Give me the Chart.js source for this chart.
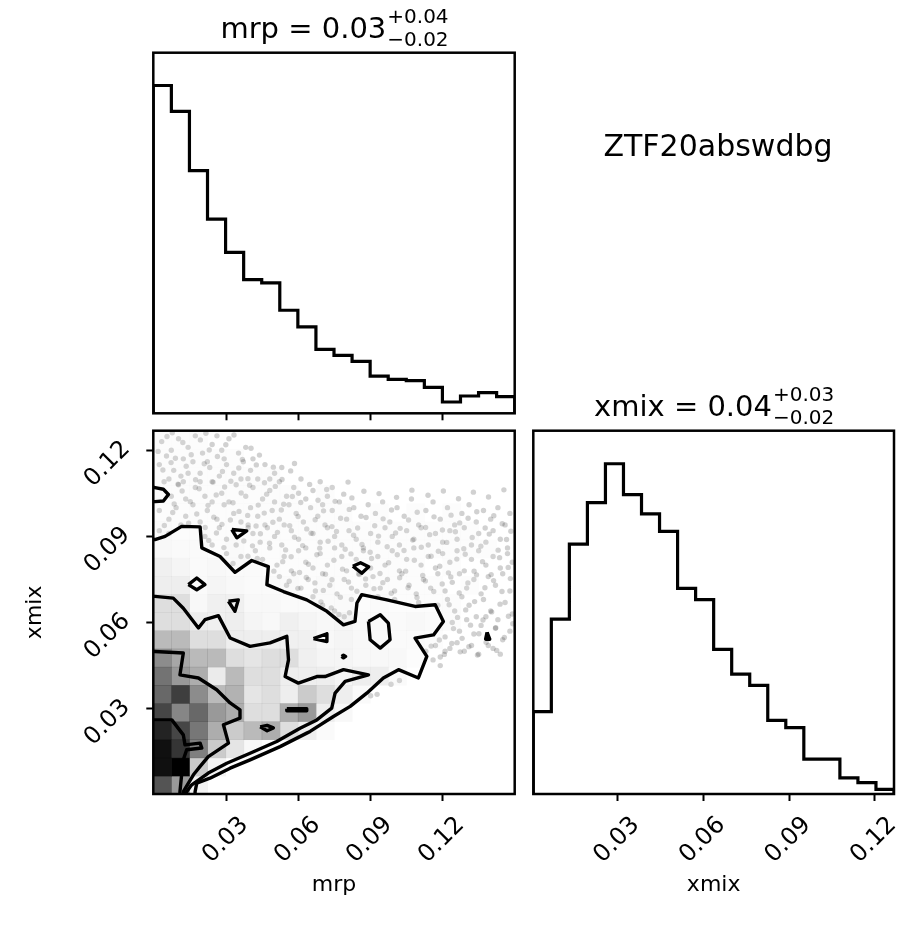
<!DOCTYPE html>
<html>
<head>
<meta charset="utf-8">
<title>ZTF20abswdbg corner plot</title>
<script src="https://cdn.jsdelivr.net/npm/chart.js@4.4.1/dist/chart.umd.min.js"></script>
<style>
  html, body { margin: 0; padding: 0; background: #fff; }
  #figure { position: relative; width: 913px; height: 926px; }
  #figure canvas { position: absolute; left: 0; top: 0; }
</style>
</head>
<body>
<div id="figure">
  <canvas id="mrp-hist" width="913" height="926"></canvas>
  <canvas id="joint" width="913" height="926"></canvas>
  <canvas id="xmix-hist" width="913" height="926"></canvas>
</div>
<script>
const FIG_W = 913, FIG_H = 926;
const FONT = "'DejaVu Sans', 'Liberation Sans', sans-serif";

// axis limits (sample extent) and tick values, shared by both parameters
const mrpRange = [-0.0005, 0.1500];
const xmixRange = [0.0003, 0.1268];
const tickValues = [0.03, 0.06, 0.09, 0.12];

const objectName = 'ZTF20abswdbg';
const mrpSummary = { label: 'mrp', median: '0.03', plus: '0.04', minus: '0.02' };
const xmixSummary = { label: 'xmix', median: '0.04', plus: '0.03', minus: '0.02' };

// 1D marginal histograms, 20 bins over the ranges above
const mrpCounts = [493, 454, 365, 292, 242, 201, 196, 155, 130, 96, 87, 78, 56, 51, 49, 39, 17, 26, 31, 25];
const xmixCounts = [123, 261, 373, 435, 493, 447, 418, 392, 307, 290, 216, 179, 162, 110, 99, 52, 52, 24, 17, 7];

// 2D density (fraction of peak), one row per xmix bin from the bottom, one column per mrp bin
const densityRows = [
  [0.82, 0.63, 0.22, 0, 0, 0, 0, 0, 0, 0, 0, 0, 0, 0, 0, 0, 0, 0, 0, 0],
  [0.97, 1.00, 0.45, 0.22, 0, 0, 0, 0, 0, 0, 0, 0, 0, 0, 0, 0, 0, 0, 0, 0],
  [0.97, 0.89, 0.71, 0.45, 0.32, 0.17, 0, 0, 0, 0, 0, 0, 0, 0, 0, 0, 0, 0, 0, 0],
  [0.93, 0.85, 0.73, 0.57, 0.45, 0.52, 0.57, 0.36, 0.26, 0.14, 0, 0, 0, 0, 0, 0, 0, 0, 0, 0],
  [0.85, 0.69, 0.77, 0.63, 0.57, 0.36, 0.36, 0.57, 0.63, 0.26, 0.17, 0, 0, 0, 0, 0, 0, 0, 0, 0],
  [0.77, 0.87, 0.67, 0.52, 0.55, 0.32, 0.36, 0.26, 0.45, 0.36, 0.26, 0.14, 0, 0, 0, 0, 0, 0, 0, 0],
  [0.74, 0.63, 0.57, 0.28, 0.52, 0.36, 0.36, 0.26, 0.26, 0.26, 0.20, 0.26, 0.26, 0.14, 0, 0, 0, 0, 0, 0],
  [0.67, 0.59, 0.52, 0.52, 0.36, 0.32, 0.36, 0.36, 0.24, 0.20, 0.20, 0.17, 0.17, 0.17, 0.10, 0, 0, 0, 0, 0],
  [0.52, 0.52, 0.36, 0.36, 0.26, 0.26, 0.26, 0.24, 0.24, 0.17, 0.20, 0.17, 0.17, 0.14, 0.14, 0.10, 0, 0, 0, 0],
  [0.36, 0.36, 0.26, 0.24, 0.26, 0.20, 0.17, 0.24, 0.20, 0.17, 0.20, 0.14, 0.14, 0.14, 0.17, 0.14, 0.10, 0, 0, 0],
  [0.36, 0.36, 0.17, 0.24, 0.24, 0.17, 0.17, 0.14, 0.14, 0.14, 0.14, 0.10, 0.14, 0.10, 0.10, 0.10, 0.10, 0, 0, 0],
  [0.26, 0.26, 0.14, 0.20, 0.17, 0.14, 0.14, 0.14, 0.10, 0.14, 0.10, 0.10, 0.10, 0.10, 0.10, 0.10, 0, 0.10, 0, 0],
  [0.24, 0.20, 0.14, 0.17, 0.14, 0.14, 0.10, 0.10, 0.10, 0.10, 0.10, 0.10, 0.10, 0.10, 0.10, 0, 0.10, 0, 0, 0],
  [0.17, 0.14, 0.14, 0.10, 0.14, 0.10, 0.10, 0.10, 0.10, 0.10, 0.10, 0.10, 0.10, 0.10, 0.10, 0.10, 0.10, 0.10, 0.10, 0],
  [0.14, 0.10, 0.10, 0.10, 0.10, 0.10, 0.10, 0.10, 0.10, 0.10, 0.10, 0.10, 0.10, 0.10, 0.10, 0.10, 0.10, 0.10, 0, 0],
  [0.10, 0.10, 0.10, 0.10, 0.10, 0.10, 0.10, 0.10, 0.10, 0.10, 0.10, 0, 0.10, 0, 0.10, 0, 0.10, 0, 0, 0],
  [0.10, 0.10, 0.10, 0.10, 0.10, 0.10, 0.10, 0.10, 0, 0.10, 0, 0, 0, 0, 0, 0, 0, 0, 0, 0],
  [0.10, 0.10, 0.10, 0.10, 0.10, 0.10, 0.10, 0, 0, 0, 0, 0, 0, 0, 0, 0, 0, 0, 0, 0],
  [0.10, 0.10, 0.10, 0.10, 0.10, 0, 0, 0, 0, 0, 0, 0, 0, 0, 0, 0, 0, 0, 0, 0],
  [0.10, 0.10, 0.10, 0, 0, 0, 0, 0, 0, 0, 0, 0, 0, 0, 0, 0, 0, 0, 0, 0]
];

// contour paths [mrp, xmix]; open ends run past the axes and get clipped
const contourOuter = [
  [-0.006, 0.0889], [0.0002, 0.0889], [0.0044, 0.0900], [0.0113, 0.0935], [0.0190, 0.0933],
  [0.0197, 0.0860], [0.0273, 0.0830], [0.0335, 0.0775], [0.0405, 0.0816], [0.0474, 0.0795],
  [0.0468, 0.0732], [0.0537, 0.0708], [0.0634, 0.0679], [0.0718, 0.0639], [0.0787, 0.0592],
  [0.0835, 0.0604], [0.0843, 0.0668], [0.0863, 0.0697], [0.0968, 0.0679], [0.1085, 0.0656],
  [0.1169, 0.0662], [0.1203, 0.0604], [0.1162, 0.0557], [0.1085, 0.0546], [0.1134, 0.0482],
  [0.1099, 0.0407], [0.1016, 0.0436], [0.0953, 0.0407], [0.0884, 0.0354], [0.0815, 0.0308],
  [0.0745, 0.0273], [0.0648, 0.0221], [0.0634, 0.0215], [0.0523, 0.0168], [0.0398, 0.0122],
  [0.0315, 0.0093], [0.0231, 0.0058], [0.0176, 0.0041], [0.0169, 0.0011], [0.0169, -0.003]
];
const contourSecond = [
  [-0.006, 0.0691], [0.0002, 0.0691], [0.0078, 0.0685], [0.0120, 0.0650], [0.0183, 0.0581],
  [0.0210, 0.0610], [0.0266, 0.0624], [0.0315, 0.0546], [0.0398, 0.0517], [0.0481, 0.0529],
  [0.0551, 0.0552], [0.0558, 0.0470], [0.0544, 0.0412], [0.0599, 0.0389], [0.0676, 0.0412],
  [0.0710, 0.0412], [0.0787, 0.0436], [0.0891, 0.0418], [0.0794, 0.0395], [0.0752, 0.0354],
  [0.0738, 0.0302], [0.0676, 0.0261], [0.0606, 0.0232], [0.0509, 0.0186], [0.0398, 0.0145],
  [0.0301, 0.0110], [0.0224, 0.0076], [0.0155, 0.0035], [0.0134, 0.0011], [0.0134, -0.003]
];
const contourThird = [
  [-0.006, 0.0499], [0.0002, 0.0499], [0.0120, 0.0494], [0.0106, 0.0418], [0.0183, 0.0407],
  [0.0259, 0.0366], [0.0315, 0.0320], [0.0356, 0.0296], [0.0356, 0.0267], [0.0287, 0.0244],
  [0.0308, 0.0180], [0.0224, 0.0133], [0.0190, 0.0099], [0.0162, 0.0070], [0.0120, 0.0011],
  [0.0120, -0.003]
];
const contourInner = [
  [-0.006, 0.0261], [0.0002, 0.0261], [0.0072, 0.0261], [0.0120, 0.0209], [0.0127, 0.0174],
  [0.0190, 0.0180], [0.0197, 0.0163], [0.0134, 0.0157], [0.0120, 0.0122], [0.0113, 0.0070],
  [0.0106, 0.0011], [0.0106, -0.003]
];
// small closed islands
const contourIslands = [
  [[-0.006, 0.1070], [0.0002, 0.1070], [0.0037, 0.1064], [0.0058, 0.1046], [0.0037, 0.1023], [0.0002, 0.1021], [-0.006, 0.1021]],
  [[0.0322, 0.0924], [0.0384, 0.0919], [0.0343, 0.0895], [0.0322, 0.0924]],
  [[0.0826, 0.0796], [0.0858, 0.0808], [0.0892, 0.0794], [0.0863, 0.0772], [0.0826, 0.0796]],
  [[0.1385, 0.0566], [0.1379, 0.0542], [0.1396, 0.0542], [0.1385, 0.0566]],
  [[0.0141, 0.0732], [0.0176, 0.0755], [0.0210, 0.0732], [0.0176, 0.0714], [0.0141, 0.0732]],
  [[0.0308, 0.0674], [0.0349, 0.0679], [0.0335, 0.0639], [0.0308, 0.0674]],
  [[0.0662, 0.0544], [0.0718, 0.0561], [0.0718, 0.0534], [0.0662, 0.0544]],
  [[0.0891, 0.0604], [0.0940, 0.0627], [0.0974, 0.0598], [0.0981, 0.0540], [0.0940, 0.0511], [0.0898, 0.0540], [0.0891, 0.0604]],
  [[0.0779, 0.0482], [0.0787, 0.0486], [0.0796, 0.0482], [0.0787, 0.0477], [0.0779, 0.0482]],
  [[0.0551, 0.0300], [0.0634, 0.0300], [0.0634, 0.0293], [0.0551, 0.0293], [0.0551, 0.0300]],
  [[0.0440, 0.0237], [0.0469, 0.0242], [0.0495, 0.0233], [0.0469, 0.0223], [0.0440, 0.0237]]
];

// individual samples outside the outer contour [mrp, xmix]
const samplePoints = [
  [0.003,0.123],[0.007,0.120],[0.010,0.124],[0.014,0.121],[0.017,0.125],[0.020,0.119],[0.024,0.122],[0.028,0.120],
  [0.031,0.124],[0.035,0.119],[0.038,0.121],[0.005,0.118],[0.012,0.117],[0.022,0.116],[0.026,0.125],
  [0.002,0.115],[0.008,0.113],[0.011,0.111],[0.016,0.116],[0.019,0.112],[0.023,0.114],[0.027,0.111],[0.030,0.115],
  [0.033,0.112],[0.037,0.116],[0.040,0.113],[0.043,0.110],[0.046,0.115],[0.050,0.112],[0.053,0.114],[0.006,0.110],
  [0.014,0.112],[0.029,0.117],[0.041,0.117],[0.048,0.110],
  [0.004,0.109],[0.007,0.104],[0.010,0.108],[0.013,0.103],[0.017,0.107],[0.021,0.104],[0.024,0.109],[0.028,0.105],
  [0.031,0.102],[0.034,0.108],[0.038,0.104],[0.041,0.107],[0.045,0.103],[0.048,0.106],[0.052,0.109],[0.055,0.104],
  [0.058,0.107],[0.061,0.110],[0.063,0.103],[0.066,0.106],[0.069,0.109],[0.072,0.104],[0.074,0.107],[0.019,0.109],
  [0.036,0.110],[0.050,0.102],[0.060,0.105],[0.012,0.109],
  [0.002,0.099],[0.006,0.096],[0.009,0.100],[0.013,0.097],[0.016,0.101],[0.019,0.095],[0.022,0.099],[0.026,0.096],
  [0.029,0.101],[0.033,0.098],[0.036,0.095],[0.040,0.100],[0.043,0.097],[0.046,0.094],[0.049,0.099],[0.052,0.096],
  [0.056,0.101],[0.059,0.098],[0.062,0.095],[0.065,0.100],[0.068,0.097],[0.071,0.094],[0.074,0.099],[0.077,0.102],
  [0.080,0.096],[0.083,0.100],[0.086,0.097],[0.089,0.101],[0.011,0.094],[0.024,0.102],[0.039,0.094],[0.054,0.094],
  [0.070,0.101],[0.092,0.098],[0.095,0.102],[0.098,0.095],[0.101,0.100],[0.104,0.097],[0.107,0.103],[0.110,0.094],
  [0.113,0.099],[0.116,0.102],[0.119,0.096],[0.122,0.100],[0.125,0.094],[0.128,0.098],[0.131,0.101],[0.134,0.095],
  [0.137,0.099],[0.140,0.096],[0.143,0.100],[0.146,0.094],[0.148,0.098],
  [0.002,0.092],[0.006,0.091],[0.021,0.090],[0.024,0.087],[0.027,0.093],[0.030,0.089],[0.041,0.091],[0.044,0.088],
  [0.047,0.093],[0.050,0.090],[0.053,0.087],[0.057,0.092],[0.060,0.089],[0.063,0.086],[0.066,0.091],[0.069,0.088],
  [0.072,0.093],[0.075,0.090],[0.078,0.087],[0.081,0.092],[0.084,0.089],[0.087,0.086],[0.090,0.091],[0.093,0.088],
  [0.096,0.093],[0.099,0.090],[0.102,0.087],[0.105,0.092],[0.108,0.089],[0.111,0.093],[0.114,0.087],[0.117,0.091],
  [0.120,0.088],[0.123,0.092],[0.126,0.089],[0.129,0.093],[0.132,0.087],[0.135,0.091],[0.138,0.088],[0.141,0.092],
  [0.144,0.089],[0.147,0.086],[0.034,0.087],[0.039,0.093],
  [0.030,0.084],[0.036,0.083],[0.042,0.085],[0.045,0.082],[0.048,0.086],[0.051,0.080],[0.054,0.083],[0.057,0.078],
  [0.060,0.085],[0.063,0.081],[0.066,0.079],[0.069,0.084],[0.072,0.080],[0.075,0.086],[0.078,0.083],[0.080,0.078],
  [0.084,0.082],[0.087,0.085],[0.090,0.079],[0.093,0.083],[0.096,0.080],[0.099,0.085],[0.102,0.078],[0.105,0.082],
  [0.108,0.086],[0.111,0.080],[0.114,0.083],[0.117,0.079],[0.120,0.084],[0.123,0.081],[0.126,0.085],[0.129,0.078],
  [0.132,0.082],[0.135,0.085],[0.138,0.080],[0.141,0.083],[0.144,0.079],[0.147,0.084],[0.149,0.081],
  [0.052,0.076],[0.055,0.073],[0.058,0.077],[0.061,0.072],[0.064,0.075],[0.067,0.071],[0.070,0.077],[0.073,0.073],
  [0.076,0.070],[0.079,0.075],[0.082,0.072],[0.085,0.077],[0.088,0.073],[0.091,0.076],[0.094,0.072],[0.097,0.075],
  [0.100,0.071],[0.103,0.077],[0.106,0.073],[0.109,0.070],[0.112,0.075],[0.115,0.072],[0.118,0.077],[0.121,0.071],
  [0.124,0.074],[0.127,0.077],[0.130,0.072],[0.133,0.075],[0.136,0.070],[0.139,0.076],[0.142,0.073],[0.145,0.077],
  [0.148,0.071],
  [0.066,0.069],[0.070,0.066],[0.075,0.064],[0.079,0.062],[0.082,0.068],[0.093,0.069],[0.100,0.068],[0.110,0.067],
  [0.118,0.066],
  [0.122,0.068],[0.125,0.064],[0.128,0.069],[0.131,0.066],[0.134,0.062],[0.137,0.068],[0.140,0.064],[0.143,0.061],
  [0.146,0.067],[0.149,0.063],[0.124,0.060],[0.127,0.057],[0.130,0.061],[0.133,0.056],[0.136,0.059],[0.139,0.052],
  [0.142,0.058],[0.145,0.054],[0.148,0.057],[0.121,0.055],[0.123,0.051],[0.126,0.053],[0.129,0.050],[0.132,0.052],
  [0.135,0.049],[0.141,0.051],[0.144,0.049],[0.117,0.052],[0.119,0.048],[0.113,0.050],[0.138,0.062],
  [0.0927,0.0350],[0.0900,0.0345],[0.0985,0.0385],[0.1020,0.0398],[0.116,0.047],[0.119,0.045],[0.121,0.050],
  [0.0015,0.1196],[0.0052,0.1248],[0.0087,0.1172],[0.0118,0.1227],[0.0153,0.1184],[0.0191,0.1236],[0.0228,0.1201],
  [0.0262,0.1178],[0.0297,0.1219],[0.0331,0.1253],[0.0366,0.1168],[0.0402,0.1207],[0.0437,0.1183],[0.0074,0.1261],
  [0.0214,0.1259],
  [0.0035,0.1131],[0.0069,0.1157],[0.0098,0.1082],[0.0132,0.1144],[0.0171,0.1097],[0.0207,0.1153],[0.0244,0.1089],
  [0.0283,0.1126],[0.0318,0.1092],[0.0351,0.1138],[0.0389,0.1101],[0.0424,0.1149],[0.0458,0.1087],[0.0495,0.1141],
  [0.0531,0.1098],[0.0567,0.1128],[0.0583,0.1154],
  [0.0082,0.1013],[0.0115,0.1058],[0.0149,0.1021],[0.0186,0.1066],[0.0223,0.1008],[0.0257,0.1044],[0.0292,0.1072],
  [0.0327,0.1017],[0.0361,0.1051],[0.0396,0.1078],[0.0432,0.1009],[0.0467,0.1047],[0.0503,0.1074],[0.0538,0.1012],
  [0.0574,0.1039],[0.0609,0.1018],[0.0646,0.1081],[0.0681,0.1026],[0.0717,0.1063],[0.0752,0.1022],[0.0788,0.1047],
  [0.0822,0.1034],
  [0.0041,0.0938],[0.0076,0.0983],[0.0142,0.0946],[0.0176,0.0978],[0.0211,0.0931],[0.0247,0.0967],[0.0281,0.0942],
  [0.0316,0.0957],[0.0352,0.0987],[0.0388,0.0973],[0.0423,0.0936],[0.0457,0.0981],[0.0493,0.0949],[0.0528,0.0992],
  [0.0563,0.0937],[0.0598,0.0969],[0.0634,0.0926],[0.0669,0.0958],[0.0704,0.0989],[0.0739,0.0934],[0.0775,0.0963],
  [0.0811,0.0994],[0.0846,0.0929],[0.0881,0.0966],[0.0917,0.0937],[0.0952,0.0961],[0.0987,0.0992],[0.1023,0.0928],
  [0.1058,0.0957],[0.1094,0.0984],[0.1129,0.0931],[0.1164,0.0968],[0.1199,0.0922],[0.1235,0.0974],[0.1271,0.0947],
  [0.1306,0.0963],[0.1342,0.0986],[0.1377,0.0929],[0.1413,0.0972],[0.1448,0.0944],[0.1484,0.0918],
  [0.0226,0.0886],[0.0258,0.0912],[0.0289,0.0861],[0.0372,0.0884],[0.0408,0.0867],[0.0441,0.0909],[0.0479,0.0876],
  [0.0512,0.0914],[0.0546,0.0853],[0.0583,0.0897],[0.0617,0.0868],[0.0652,0.0911],[0.0688,0.0859],[0.0723,0.0883],
  [0.0758,0.0917],[0.0794,0.0855],[0.0829,0.0904],[0.0864,0.0872],[0.0898,0.0845],[0.0933,0.0901],[0.0969,0.0864],
  [0.1004,0.0912],[0.1039,0.0851],[0.1075,0.0887],[0.1111,0.0862],[0.1146,0.0906],[0.1182,0.0848],[0.1217,0.0879],
  [0.1253,0.0916],[0.1288,0.0857],[0.1323,0.0896],[0.1359,0.0866],[0.1394,0.0908],[0.1431,0.0852],[0.1466,0.0889],
  [0.0327,0.0806],[0.0389,0.0831],[0.0428,0.0823],[0.0497,0.0779],[0.0534,0.0812],[0.0569,0.0829],[0.0604,0.0774],
  [0.0641,0.0803],[0.0676,0.0836],[0.0712,0.0768],[0.0747,0.0817],[0.0783,0.0786],[0.0818,0.0839],[0.0853,0.0767],
  [0.0904,0.0823],[0.0939,0.0771],[0.0975,0.0808],[0.1011,0.0836],[0.1046,0.0779],[0.1082,0.0817],[0.1117,0.0764],
  [0.1152,0.0831],[0.1188,0.0796],[0.1224,0.0773],[0.1259,0.0821],[0.1294,0.0838],[0.1331,0.0779],[0.1366,0.0812],
  [0.1402,0.0767],[0.1437,0.0826],[0.1473,0.0792],
  [0.0561,0.0744],[0.0597,0.0719],[0.0632,0.0757],[0.0668,0.0738],[0.0703,0.0712],[0.0739,0.0749],[0.0774,0.0688],
  [0.0808,0.0741],[0.0843,0.0709],[0.0879,0.0752],[0.0914,0.0718],[0.0951,0.0739],[0.0986,0.0702],[0.1021,0.0756],
  [0.1056,0.0721],[0.1093,0.0687],[0.1128,0.0745],[0.1163,0.0708],[0.1198,0.0734],[0.1234,0.0759],[0.1269,0.0703],
  [0.1305,0.0738],[0.1341,0.0766],[0.1376,0.0721],[0.1412,0.0746],[0.1447,0.0708],[0.1482,0.0753],
  [0.1227,0.0662],[0.1262,0.0618],[0.1296,0.0644],[0.1333,0.0673],[0.1368,0.0609],[0.1404,0.0637],[0.1439,0.0664],
  [0.1474,0.0622],[0.1245,0.0579],[0.1281,0.0545],[0.1316,0.0591],[0.1351,0.0561],[0.1421,0.0582],[0.1457,0.0548],
  [0.1492,0.0596],[0.1238,0.0527],[0.1273,0.0498],[0.1309,0.0516],[0.1345,0.0487],[0.1381,0.0531],[0.1425,0.0503],
  [0.1186,0.0539],[0.1152,0.0518],[0.1207,0.0489],
  [0.0693,0.0672],[0.0736,0.0651],[0.0768,0.0628],[0.0812,0.0634],
  [0.0935,0.1049],[0.1008,0.1036],[0.1072,0.1061],[0.1139,0.1043],[0.1203,0.1058],[0.1266,0.1031],[0.1328,0.1054],
  [0.1391,0.1037],[0.1455,0.1062],[0.0872,0.1057],[0.0806,0.1089]
];

// panel boxes on the page (pixels)
const panels = {
  mrpHist:  { left: 153.3, top: 52.7,  right: 514.7, bottom: 413.3 },
  joint:    { left: 153.3, top: 430.7, right: 514.7, bottom: 794 },
  xmixHist: { left: 533.3, top: 430.7, right: 894,   bottom: 794 }
};
const LABELLED_X_H = 108;   // room under a panel for tick labels + axis title
const BARE_X_H = 10;        // tick marks only
const LABELLED_Y_W = 135;
const nameAnchor = { x: 718, y: 156 };

function binEdges(range, n) {
  const step = (range[1] - range[0]) / n;
  return Array.from({ length: n + 1 }, (_, i) => range[0] + i * step);
}

// outline of a step histogram, closed down to zero at both ends
function stepData(edges, counts) {
  const pts = [{ x: edges[0], y: 0 }];
  counts.forEach((c, i) => pts.push({ x: edges[i], y: c }));
  pts.push({ x: edges[counts.length], y: counts[counts.length - 1] });
  pts.push({ x: edges[counts.length], y: 0 });
  return pts;
}

const toXY = pts => pts.map(([x, y]) => ({ x, y }));

function padFor(box, xAxisH, yAxisW) {
  return {
    left: box.left - yAxisW,
    top: box.top,
    right: FIG_W - box.right,
    bottom: FIG_H - box.bottom - xAxisH
  };
}

function valueAxis(range, opts) {
  const bottom = opts.position === 'bottom';
  return {
    type: 'linear',
    position: opts.position,
    min: range[0],
    max: range[1],
    afterBuildTicks: s => { s.ticks = tickValues.map(v => ({ value: v })); },
    afterFit: s => {
      if (bottom) s.height = opts.size;
      else s.width = opts.size;
    },
    grid: { drawOnChartArea: false, drawTicks: true, tickLength: 7, tickWidth: 2, tickColor: '#000' },
    border: { display: false },
    ticks: {
      display: opts.labels,
      autoSkip: false,
      minRotation: 45,
      maxRotation: 45,
      padding: bottom ? 10 : 20,
      labelOffset: bottom ? 18 : -5,
      color: '#000',
      font: { family: FONT, size: 24 },
      callback: v => v.toFixed(2)
    },
    title: {
      display: !!opts.title,
      text: opts.title || '',
      color: '#000',
      font: { family: FONT, size: 22 },
      padding: 4
    }
  };
}

// black box round each chart area
const framePlugin = {
  id: 'frame',
  afterDatasetsDraw(chart) {
    const { ctx, chartArea: a } = chart;
    ctx.save();
    ctx.strokeStyle = '#000';
    ctx.lineWidth = 2.5;
    ctx.strokeRect(a.left, a.top, a.right - a.left, a.bottom - a.top);
    ctx.restore();
  }
};

// "name = value^{+hi}_{-lo}" heading above a marginal histogram
const valueTitlePlugin = {
  id: 'valueTitle',
  afterDraw(chart, args, opts) {
    if (!opts || !opts.summary) return;
    const s = opts.summary;
    const { ctx, chartArea: a } = chart;
    const big = opts.size, small = Math.round(opts.size * 0.7);
    const main = `${s.label} = ${s.median}`;
    const sup = `+${s.plus}`, sub = `\u2212${s.minus}`;
    ctx.save();
    ctx.fillStyle = '#000';
    ctx.textAlign = 'left';
    ctx.textBaseline = 'alphabetic';
    ctx.font = `${big}px ${FONT}`;
    const wMain = ctx.measureText(main).width;
    ctx.font = `${small}px ${FONT}`;
    const wScript = Math.max(ctx.measureText(sup).width, ctx.measureText(sub).width);
    const x0 = (a.left + a.right) / 2 - (wMain + wScript) / 2;
    const base = a.top - opts.gap;
    ctx.font = `${big}px ${FONT}`;
    ctx.fillText(main, x0, base);
    ctx.font = `${small}px ${FONT}`;
    ctx.fillText(sup, x0 + wMain + 1, base - big * 0.5);
    ctx.fillText(sub, x0 + wMain + 1, base + big * 0.3);
    ctx.restore();
  }
};

const namePlugin = {
  id: 'objectName',
  afterDraw(chart, args, opts) {
    if (!opts || !opts.text) return;
    const { ctx } = chart;
    ctx.save();
    ctx.fillStyle = '#000';
    ctx.textAlign = 'center';
    ctx.textBaseline = 'alphabetic';
    ctx.font = `${opts.size}px ${FONT}`;
    ctx.fillText(opts.text, opts.x, opts.y);
    ctx.restore();
  }
};

// grey density cells, painted right after the sample points so they sit above them
const densityPlugin = {
  id: 'density',
  afterDatasetDraw(chart, args) {
    if (args.index !== 0) return;
    const { ctx, chartArea: a, scales } = chart;
    const xe = binEdges(mrpRange, densityRows[0].length);
    const ye = binEdges(xmixRange, densityRows.length);
    ctx.save();
    ctx.beginPath();
    ctx.rect(a.left, a.top, a.right - a.left, a.bottom - a.top);
    ctx.clip();
    densityRows.forEach((row, j) => {
      const y0 = scales.y.getPixelForValue(ye[j]);
      const y1 = scales.y.getPixelForValue(ye[j + 1]);
      row.forEach((d, i) => {
        if (d <= 0) return;
        const x0 = scales.x.getPixelForValue(xe[i]);
        const x1 = scales.x.getPixelForValue(xe[i + 1]);
        const t = 1 - d;   // black -> transparent white colour map
        const g = Math.round(255 * t);
        ctx.fillStyle = `rgba(${g},${g},${g},${(1 - t).toFixed(3)})`;
        ctx.fillRect(x0, y1, x1 - x0 + 0.5, y0 - y1 + 0.5);
      });
    });
    ctx.restore();
  }
};

const baseOptions = {
  responsive: false,
  animation: false,
  events: [],
  devicePixelRatio: 1
};

function histChart(canvasId, box, range, counts, xOpts, summary, extra) {
  return new Chart(document.getElementById(canvasId), {
    type: 'line',
    data: {
      datasets: [{
        data: stepData(binEdges(range, counts.length), counts),
        stepped: 'before',
        borderColor: '#000',
        borderWidth: 3.2,
        borderJoinStyle: 'miter',
        pointRadius: 0,
        fill: false
      }]
    },
    options: {
      ...baseOptions,
      layout: { padding: padFor(box, xOpts.size, 0) },
      scales: {
        x: valueAxis(range, xOpts),
        y: { display: false, min: 0, max: Math.max(...counts) * 1.1 }
      },
      plugins: {
        legend: { display: false },
        tooltip: { enabled: false },
        valueTitle: { summary, size: 29, gap: 15 },
        objectName: extra.name || {}
      }
    },
    plugins: [framePlugin, valueTitlePlugin, namePlugin]
  });
}

histChart('mrp-hist', panels.mrpHist, mrpRange, mrpCounts,
  { position: 'bottom', size: BARE_X_H, labels: false },
  mrpSummary,
  { name: { text: objectName, size: 30, x: nameAnchor.x, y: nameAnchor.y } });

histChart('xmix-hist', panels.xmixHist, xmixRange, xmixCounts,
  { position: 'bottom', size: LABELLED_X_H, labels: true, title: 'xmix' },
  xmixSummary, {});

function contourSet(pts) {
  return {
    data: toXY(pts),
    showLine: true,
    borderColor: '#000',
    borderWidth: 3.4,
    borderJoinStyle: 'round',
    pointRadius: 0,
    fill: false,
    order: 0
  };
}

new Chart(document.getElementById('joint'), {
  type: 'scatter',
  data: {
    datasets: [
      {
        data: toXY(samplePoints),
        pointRadius: 2.7,
        pointBorderWidth: 0,
        backgroundColor: 'rgba(0,0,0,0.18)',
        order: 10
      },
      contourSet(contourOuter),
      contourSet(contourSecond),
      contourSet(contourThird),
      contourSet(contourInner),
      ...contourIslands.map(contourSet)
    ]
  },
  options: {
    ...baseOptions,
    layout: { padding: padFor(panels.joint, LABELLED_X_H, LABELLED_Y_W) },
    scales: {
      x: valueAxis(mrpRange, { position: 'bottom', size: LABELLED_X_H, labels: true, title: 'mrp' }),
      y: valueAxis(xmixRange, { position: 'left', size: LABELLED_Y_W, labels: true, title: 'xmix' })
    },
    plugins: { legend: { display: false }, tooltip: { enabled: false } }
  },
  plugins: [densityPlugin, framePlugin]
});
</script>
</body>
</html>
